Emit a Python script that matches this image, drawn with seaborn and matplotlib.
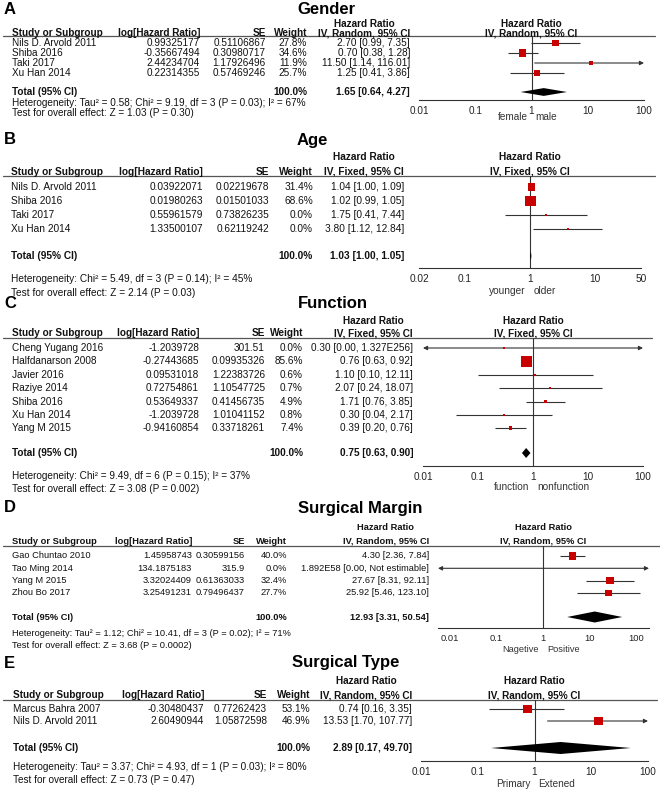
import numpy as np
import pandas as pd
import matplotlib
matplotlib.use("Agg")
import matplotlib.pyplot as plt
import matplotlib.transforms as mtransforms
import seaborn as sns

sns.set_style("white")
plt.rcParams['font.family'] = ['Liberation Sans', 'DejaVu Sans']

# ---------------- DATA ----------------
# A  Gender
a_title = "Gender"
a_method = "IV, Random, 95% CI"
a_studies = ["Nils D. Arvold 2011", "Shiba 2016", "Taki 2017", "Xu Han 2014"]
a_loghr = ["0.99325177", "-0.35667494", "2.44234704", "0.22314355"]
a_se = ["0.51106867", "0.30980717", "1.17926496", "0.57469246"]
a_weight = [27.8, 34.6, 11.9, 25.7]
a_hr = [2.70, 0.70, 11.50, 1.25]
a_lo = [0.99, 0.38, 1.14, 0.41]
a_hi = [7.35, 1.28, 116.01, 3.86]
a_ci_text = ["2.70 [0.99, 7.35]", "0.70 [0.38, 1.28]", "11.50 [1.14, 116.01]", "1.25 [0.41, 3.86]"]
a_total = [1.65, 0.64, 4.27]
a_total_text = "1.65 [0.64, 4.27]"
a_total_weight = "100.0%"
a_het = "Heterogeneity: Tau\u00b2 = 0.58; Chi\u00b2 = 9.19, df = 3 (P = 0.03); I\u00b2 = 67%"
a_test = "Test for overall effect: Z = 1.03 (P = 0.30)"
a_ticks = [0.01, 0.1, 1, 10, 100]
a_ticklabels = ["0.01", "0.1", "1", "10", "100"]
a_favours = ["female", "male"]

# B  Age
b_title = "Age"
b_method = "IV, Fixed, 95% CI"
b_studies = ["Nils D. Arvold 2011", "Shiba 2016", "Taki 2017", "Xu Han 2014"]
b_loghr = ["0.03922071", "0.01980263", "0.55961579", "1.33500107"]
b_se = ["0.02219678", "0.01501033", "0.73826235", "0.62119242"]
b_weight = [31.4, 68.6, 0.0, 0.0]
b_hr = [1.04, 1.02, 1.75, 3.80]
b_lo = [1.00, 0.99, 0.41, 1.12]
b_hi = [1.09, 1.05, 7.44, 12.84]
b_ci_text = ["1.04 [1.00, 1.09]", "1.02 [0.99, 1.05]", "1.75 [0.41, 7.44]", "3.80 [1.12, 12.84]"]
b_total = [1.03, 1.00, 1.05]
b_total_text = "1.03 [1.00, 1.05]"
b_total_weight = "100.0%"
b_het = "Heterogeneity: Chi\u00b2 = 5.49, df = 3 (P = 0.14); I\u00b2 = 45%"
b_test = "Test for overall effect: Z = 2.14 (P = 0.03)"
b_ticks = [0.02, 0.1, 1, 10, 50]
b_ticklabels = ["0.02", "0.1", "1", "10", "50"]
b_favours = ["younger", "older"]

# C  Function
c_title = "Function"
c_method = "IV, Fixed, 95% CI"
c_studies = ["Cheng Yugang 2016", "Halfdanarson 2008", "Javier 2016", "Raziye 2014",
             "Shiba 2016", "Xu Han 2014", "Yang M 2015"]
c_loghr = ["-1.2039728", "-0.27443685", "0.09531018", "0.72754861", "0.53649337",
           "-1.2039728", "-0.94160854"]
c_se = ["301.51", "0.09935326", "1.22383726", "1.10547725", "0.41456735",
        "1.01041152", "0.33718261"]
c_weight = [0.0, 85.6, 0.6, 0.7, 4.9, 0.8, 7.4]
c_hr = [0.30, 0.76, 1.10, 2.07, 1.71, 0.30, 0.39]
c_lo = [0.00, 0.63, 0.10, 0.24, 0.76, 0.04, 0.20]
c_hi = [1.327e256, 0.92, 12.11, 18.07, 3.85, 2.17, 0.76]
c_ci_text = ["0.30 [0.00, 1.327E256]", "0.76 [0.63, 0.92]", "1.10 [0.10, 12.11]",
             "2.07 [0.24, 18.07]", "1.71 [0.76, 3.85]", "0.30 [0.04, 2.17]", "0.39 [0.20, 0.76]"]
c_total = [0.75, 0.63, 0.90]
c_total_text = "0.75 [0.63, 0.90]"
c_total_weight = "100.0%"
c_het = "Heterogeneity: Chi\u00b2 = 9.49, df = 6 (P = 0.15); I\u00b2 = 37%"
c_test = "Test for overall effect: Z = 3.08 (P = 0.002)"
c_ticks = [0.01, 0.1, 1, 10, 100]
c_ticklabels = ["0.01", "0.1", "1", "10", "100"]
c_favours = ["function", "nonfunction"]

# D  Surgical Margin
d_title = "Surgical Margin"
d_method = "IV, Random, 95% CI"
d_studies = ["Gao Chuntao 2010", "Tao Ming 2014", "Yang M 2015", "Zhou Bo 2017"]
d_loghr = ["1.45958743", "134.1875183", "3.32024409", "3.25491231"]
d_se = ["0.30599156", "315.9", "0.61363033", "0.79496437"]
d_weight = [40.0, 0.0, 32.4, 27.7]
d_hr = [4.30, 1.892e58, 27.67, 25.92]
d_lo = [2.36, 0.00, 8.31, 5.46]
d_hi = [7.84, np.inf, 92.11, 123.10]
d_ci_text = ["4.30 [2.36, 7.84]", "1.892E58 [0.00, Not estimable]", "27.67 [8.31, 92.11]",
             "25.92 [5.46, 123.10]"]
d_total = [12.93, 3.31, 50.54]
d_total_text = "12.93 [3.31, 50.54]"
d_total_weight = "100.0%"
d_het = "Heterogeneity: Tau\u00b2 = 1.12; Chi\u00b2 = 10.41, df = 3 (P = 0.02); I\u00b2 = 71%"
d_test = "Test for overall effect: Z = 3.68 (P = 0.0002)"
d_ticks = [0.01, 0.1, 1, 10, 100]
d_ticklabels = ["0.01", "0.1", "1", "10", "100"]
d_favours = ["Nagetive", "Positive"]

# E  Surgical Type
e_title = "Surgical Type"
e_method = "IV, Random, 95% CI"
e_studies = ["Marcus Bahra 2007", "Nils D. Arvold 2011"]
e_loghr = ["-0.30480437", "2.60490944"]
e_se = ["0.77262423", "1.05872598"]
e_weight = [53.1, 46.9]
e_hr = [0.74, 13.53]
e_lo = [0.16, 1.70]
e_hi = [3.35, 107.77]
e_ci_text = ["0.74 [0.16, 3.35]", "13.53 [1.70, 107.77]"]
e_total = [2.89, 0.17, 49.70]
e_total_text = "2.89 [0.17, 49.70]"
e_total_weight = "100.0%"
e_het = "Heterogeneity: Tau\u00b2 = 3.37; Chi\u00b2 = 4.93, df = 1 (P = 0.03); I\u00b2 = 80%"
e_test = "Test for overall effect: Z = 0.73 (P = 0.47)"
e_ticks = [0.01, 0.1, 1, 10, 100]
e_ticklabels = ["0.01", "0.1", "1", "10", "100"]
e_favours = ["Primary", "Extened"]

# ---------------- LAYOUT (pixels) ----------------
W, H = 660, 792
RED = "#C80000"
LINE = "#333333"

panels = [
    dict(letter="A", title=a_title, method=a_method, studies=a_studies, loghr=a_loghr, se=a_se,
         weight=a_weight, hr=a_hr, lo=a_lo, hi=a_hi, ci_text=a_ci_text, total=a_total,
         total_text=a_total_text, total_weight=a_total_weight, het=a_het, test=a_test,
         ticks=a_ticks, ticklabels=a_ticklabels, favours=a_favours,
         L=dict(fs=7.2, letter_y=10, title_x=297, h1=24, h2=33, line=36, row0=43, dy=10, tot=92,
                het=103, test=113, sx=12, lx=200, sex=266, wx=307, cx=410,
                fl=419, fr=644, fb=100, xlim=(0.01, 100), fav=117, dh=3.9, line_r=655)),
    dict(letter="B", title=b_title, method=b_method, studies=b_studies, loghr=b_loghr, se=b_se,
         weight=b_weight, hr=b_hr, lo=b_lo, hi=b_hi, ci_text=b_ci_text, total=b_total,
         total_text=b_total_text, total_weight=b_total_weight, het=b_het, test=b_test,
         ticks=b_ticks, ticklabels=b_ticklabels, favours=b_favours,
         L=dict(fs=7.3, letter_y=140, title_x=297, h1=157, h2=172, line=176, row0=187, dy=14,
                tot=256, het=279, test=293, sx=11, lx=203, sex=269, wx=313, cx=404,
                fl=419, fr=641, fb=268, xlim=(0.02, 50), fav=291, dh=4.5, line_r=655)),
    dict(letter="C", title=c_title, method=c_method, studies=c_studies, loghr=c_loghr, se=c_se,
         weight=c_weight, hr=c_hr, lo=c_lo, hi=c_hi, ci_text=c_ci_text, total=c_total,
         total_text=c_total_text, total_weight=c_total_weight, het=c_het, test=c_test,
         ticks=c_ticks, ticklabels=c_ticklabels, favours=c_favours,
         L=dict(fs=7.2, letter_y=303, title_x=298, h1=321, h2=333, line=338, row0=348, dy=13.4,
                tot=453, het=476, test=489, sx=12, lx=199, sex=265, wx=303, cx=413,
                fl=423, fr=643, fb=466, xlim=(0.01, 100), fav=487, dh=5.0, line_r=652)),
    dict(letter="D", title=d_title, method=d_method, studies=d_studies, loghr=d_loghr, se=d_se,
         weight=d_weight, hr=d_hr, lo=d_lo, hi=d_hi, ci_text=d_ci_text, total=d_total,
         total_text=d_total_text, total_weight=d_total_weight, het=d_het, test=d_test,
         ticks=d_ticks, ticklabels=d_ticklabels, favours=d_favours,
         L=dict(fs=6.7, letter_y=508, title_x=298, h1=528, h2=541, line=546, row0=556, dy=12.3,
                tot=617, het=634, test=645, sx=12, lx=192, sex=245, wx=287, cx=429,
                fl=438, fr=649, fb=628, xlim=(10 ** -2.26, 10 ** 2.28), fav=649, dh=5.5,
                line_r=660)),
    dict(letter="E", title=e_title, method=e_method, studies=e_studies, loghr=e_loghr, se=e_se,
         weight=e_weight, hr=e_hr, lo=e_lo, hi=e_hi, ci_text=e_ci_text, total=e_total,
         total_text=e_total_text, total_weight=e_total_weight, het=e_het, test=e_test,
         ticks=e_ticks, ticklabels=e_ticklabels, favours=e_favours,
         L=dict(fs=7.2, letter_y=663, title_x=292, h1=681, h2=695, line=700, row0=709, dy=12,
                tot=748, het=767, test=780, sx=13, lx=204, sex=267, wx=310, cx=412,
                fl=421, fr=648, fb=761, xlim=(0.01, 100), fav=784, dh=6.0, line_r=657)),
]

fig = plt.figure(figsize=(W / 100, H / 100), dpi=100)
fig.patch.set_facecolor("white")
T = fig.add_axes([0, 0, 1, 1])
T.set_xlim(0, W)
T.set_ylim(H, 0)
T.axis("off")
T.patch.set_alpha(0)
renderer = fig.canvas.get_renderer()


def txt(x, y, s, size, ha="left", bold=False, color="#111111", **kw):
    return T.text(x, y, s, ha=ha, va="center", fontsize=size,
                  fontweight="bold" if bold else "normal", color=color, **kw)


for p in panels:
    L = p["L"]
    fs = L["fs"]
    n = len(p["studies"])
    ys = [L["row0"] + i * L["dy"] for i in range(n)]

    # titles
    txt(4, L["letter_y"], p["letter"], 12, bold=True, color="black")
    txt(L["title_x"], L["letter_y"], p["title"], 12, bold=True, color="black")

    # table headers
    txt(L["sx"], L["h2"], "Study or Subgroup", fs, bold=True)
    txt(L["lx"], L["h2"], "log[Hazard Ratio]", fs, ha="right", bold=True)
    txt(L["sex"], L["h2"], "SE", fs, ha="right", bold=True)
    txt(L["wx"], L["h2"], "Weight", fs, ha="right", bold=True)
    h2 = txt(L["cx"], L["h2"], p["method"], fs, ha="right", bold=True)
    bb = h2.get_window_extent(renderer=renderer)
    txt((bb.x0 + bb.x1) / 2, L["h1"], "Hazard Ratio", fs, ha="center", bold=True)
    T.plot([3, L["line_r"]], [L["line"], L["line"]], color="#555555", lw=0.9)

    # table rows
    for i in range(n):
        y = ys[i]
        txt(L["sx"], y, p["studies"][i], fs)
        txt(L["lx"], y, p["loghr"][i], fs, ha="right")
        txt(L["sex"], y, p["se"][i], fs, ha="right")
        txt(L["wx"], y, f"{p['weight'][i]:.1f}%", fs, ha="right")
        txt(L["cx"], y, p["ci_text"][i], fs, ha="right")

    txt(L["sx"], L["tot"], "Total (95% CI)", fs, bold=True)
    txt(L["wx"], L["tot"], p["total_weight"], fs, ha="right", bold=True)
    txt(L["cx"], L["tot"], p["total_text"], fs, ha="right", bold=True)
    txt(L["sx"], L["het"], p["het"], fs)
    txt(L["sx"], L["test"], p["test"], fs)

    # forest axes (y in figure pixels)
    ax = fig.add_axes([L["fl"] / W, 1 - L["fb"] / H, (L["fr"] - L["fl"]) / W,
                       (L["fb"] - L["line"]) / H])
    ax.patch.set_alpha(0)
    ax.set_xscale("log")

    df = pd.DataFrame({"hr": p["hr"], "y": ys, "weight": p["weight"]})
    sns.scatterplot(data=df, x="hr", y="y", size="weight", sizes=(2, 77), size_norm=(0, 100),
                    marker="s", color=RED, linewidth=0, legend=False, ax=ax, zorder=4)

    xlo, xhi = L["xlim"]
    for i in range(n):
        lo, hi, y = p["lo"][i], p["hi"][i], ys[i]
        la, ra = lo < xlo, hi > xhi
        lo_c, hi_c = max(lo, xlo), min(hi, xhi)
        if la or ra:
            style = "<|-|>" if (la and ra) else ("-|>" if ra else "<|-")
            ax.annotate("", xy=(hi_c, y), xytext=(lo_c, y),
                        arrowprops=dict(arrowstyle=style, color=LINE, lw=0.8,
                                        mutation_scale=6, shrinkA=0, shrinkB=0),
                        annotation_clip=False, zorder=3)
        else:
            ax.hlines(y, lo_c, hi_c, color=LINE, lw=0.8, zorder=3)

    est, tlo, thi = p["total"]
    yt, dh = L["tot"], L["dh"]
    ax.fill([tlo, est, thi, est], [yt, yt - dh, yt, yt + dh], color="black", lw=0, zorder=5)

    ax.axvline(1, color=LINE, lw=0.8, zorder=2)
    ax.set_xlim(xlo, xhi)
    ax.set_ylim(L["fb"], L["line"])
    ax.set_xticks(p["ticks"])
    ax.set_xticklabels(p["ticklabels"])
    ax.xaxis.set_minor_locator(matplotlib.ticker.NullLocator())
    ax.set_yticks([])
    ax.set_xlabel("")
    ax.set_ylabel("")
    for s in ["top", "left", "right"]:
        ax.spines[s].set_visible(False)
    ax.spines["bottom"].set_color(LINE)
    ax.spines["bottom"].set_linewidth(0.8)
    ax.tick_params(axis="x", direction="inout", length=5, width=0.8, colors=LINE,
                   labelsize=fs, pad=1.5, labelcolor="#222222")

    # forest header & favours labels
    bt = mtransforms.blended_transform_factory(ax.transData, T.transData)
    T.text(1, L["h1"], "Hazard Ratio", transform=bt, ha="center", va="center",
           fontsize=fs, fontweight="bold", color="#111111")
    T.text(1, L["h2"], p["method"], transform=bt, ha="center", va="center",
           fontsize=fs, fontweight="bold", color="#111111")
    left_t = mtransforms.offset_copy(bt, fig=fig, x=-4, y=0, units="dots")
    right_t = mtransforms.offset_copy(bt, fig=fig, x=4, y=0, units="dots")
    T.text(1, L["fav"], p["favours"][0], transform=left_t, ha="right", va="center",
           fontsize=fs, color="#333333")
    T.text(1, L["fav"], p["favours"][1], transform=right_t, ha="left", va="center",
           fontsize=fs, color="#333333")

fig.savefig("out.png", dpi=100, facecolor="white")
